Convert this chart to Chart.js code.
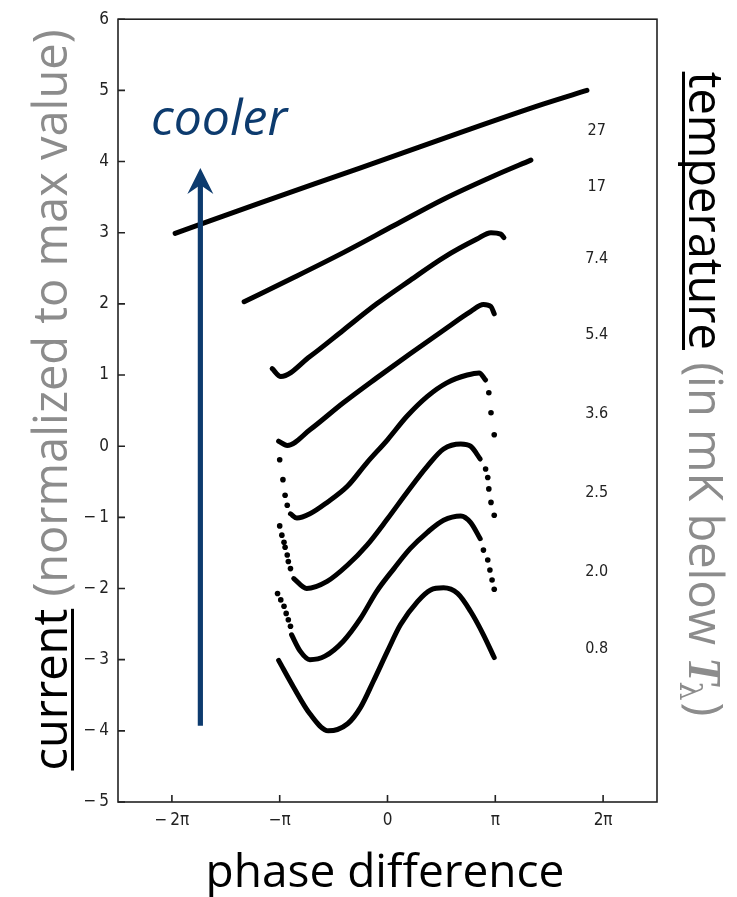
<!DOCTYPE html>
<html><head><meta charset="utf-8">
<style>html,body{margin:0;padding:0;background:#fff;}canvas{display:block}</style>
<script src="https://cdn.jsdelivr.net/npm/chart.js@4/dist/chart.umd.min.js"></script>
</head><body>
<canvas id="c" width="737" height="897"></canvas>
<script>
// ---- data (x in multiples of pi, y = normalized current, offset per curve) ----
const tempLabels = ["27", "17", "7.4", "5.4", "3.6", "2.5", "2.0", "0.8"];
const tempLabelY = [4.43, 3.65, 2.63, 1.56, 0.45, -0.66, -1.76, -2.85];
const tempLabelX = 1.94;

const xTickValues = [-2, -1, 0, 1, 2];
const xTickLabels = ["\u2212\u20092\u03c0", "\u2212\u03c0", "0", "\u03c0", "2\u03c0"];
const yTickValues = [-5, -4, -3, -2, -1, 0, 1, 2, 3, 4, 5, 6];

const t27X = [-1.97, -1.18, -0.25, 0.68, 1.45, 1.85];
const t27Y = [2.99, 3.42, 3.91, 4.41, 4.81, 5.00];

const t17X = [-1.33, -0.87, -0.41, 0.06, 0.52, 0.99, 1.33];
const t17Y = [2.03, 2.37, 2.72, 3.10, 3.47, 3.80, 4.02];

const t74X = [-1.07, -0.99, -0.72, -0.41, -0.10, 0.21, 0.52, 0.83, 0.96, 1.05, 1.08];
const t74Y = [1.09, 0.98, 1.26, 1.63, 2.00, 2.33, 2.65, 2.91, 3.00, 2.98, 2.93];

const t54X = [-1.01, -0.93, -0.72, -0.41, -0.10, 0.21, 0.52, 0.77, 0.89, 0.96, 0.99];
const t54Y = [0.07, 0.01, 0.23, 0.61, 0.96, 1.30, 1.63, 1.89, 1.99, 1.96, 1.86];

const t36X = [-0.90, -0.84, -0.72, -0.56, -0.37, -0.19, 0.00, 0.18, 0.37, 0.55, 0.74, 0.85, 0.91];
const t36Y = [-0.95, -1.01, -0.95, -0.79, -0.56, -0.23, 0.09, 0.42, 0.70, 0.89, 1.00, 1.03, 0.93];
const t36DotsX = [-1.00, -0.97, -0.95, -0.93, 0.94, 0.96, 0.99];
const t36DotsY = [-0.19, -0.47, -0.69, -0.83, 0.75, 0.47, 0.16];

const t25X = [-0.87, -0.75, -0.56, -0.37, -0.19, 0.00, 0.18, 0.37, 0.52, 0.68, 0.77, 0.86];
const t25Y = [-1.86, -2.00, -1.90, -1.67, -1.39, -1.02, -0.65, -0.28, -0.04, 0.03, 0.00, -0.18];
const t25DotsX = [-1.00, -0.98, -0.96, -0.95, -0.93, -0.92, -0.90, 0.91, 0.93, 0.94, 0.96, 0.99];
const t25DotsY = [-1.12, -1.25, -1.35, -1.42, -1.53, -1.62, -1.72, -0.32, -0.44, -0.60, -0.79, -0.97];

const t20X = [-0.89, -0.81, -0.72, -0.58, -0.41, -0.25, -0.10, 0.06, 0.21, 0.37, 0.52, 0.68, 0.77, 0.86];
const t20Y = [-2.65, -2.88, -3.00, -2.95, -2.74, -2.42, -2.04, -1.72, -1.44, -1.21, -1.04, -0.98, -1.07, -1.30];
const t20DotsX = [-1.02, -0.99, -0.96, -0.94, -0.92, -0.90, 0.89, 0.93, 0.95, 0.97, 0.99];
const t20DotsY = [-2.07, -2.16, -2.25, -2.35, -2.44, -2.53, -1.46, -1.60, -1.74, -1.88, -2.01];

const t08X = [-1.01, -0.87, -0.72, -0.55, -0.37, -0.25, -0.13, 0.00, 0.12, 0.28, 0.40, 0.52, 0.65, 0.77, 0.89, 0.99];
const t08Y = [-3.01, -3.39, -3.76, -4.00, -3.90, -3.67, -3.30, -2.88, -2.51, -2.18, -2.02, -1.99, -2.07, -2.32, -2.65, -2.97];

// "cooler" arrow annotation (data units)
const arrowX = -1.736, arrowFromY = -3.93, arrowToY = 3.91;

// ---- build datasets ----
const pts = (xs, ys) => xs.map((x, i) => ({x, y: ys[i]}));
const solid = [[t27X,t27Y],[t17X,t17Y],[t74X,t74Y],[t54X,t54Y],[t36X,t36Y],[t25X,t25Y],[t20X,t20Y],[t08X,t08Y]];
const dots = [[t36DotsX,t36DotsY],[t25DotsX,t25DotsY],[t20DotsX,t20DotsY]];
const datasets = [];
solid.forEach(([xs, ys], i) => datasets.push({
  label: tempLabels[i] + " mK", data: pts(xs, ys), showLine: true,
  borderColor: "#000", backgroundColor: "#000", borderWidth: 5,
  pointRadius: 0, cubicInterpolationMode: "monotone", borderCapStyle: "round", borderJoinStyle: "round"
}));
dots.forEach(([xs, ys]) => datasets.push({
  data: pts(xs, ys), showLine: false, pointRadius: 2.8,
  pointBackgroundColor: "#000", pointBorderWidth: 0
}));

const NARROW = "'DejaVu Sans Condensed','Liberation Sans Narrow',sans-serif";
const SANS = "'Open Sans','Noto Sans',sans-serif";
const TITLE = 46;

const deco = {
  id: "deco",
  beforeDraw(chart) {
    const c = chart.ctx; c.save(); c.fillStyle = "#fff";
    c.fillRect(0, 0, chart.width, chart.height); c.restore();
  },
  afterDatasetsDraw(chart) {
    const c = chart.ctx, a = chart.chartArea;
    const xs = chart.scales.x, ys = chart.scales.y;
    c.save();
    // frame
    c.strokeStyle = "#222"; c.lineWidth = 1.6;
    c.strokeRect(a.left, a.top, a.right - a.left, a.bottom - a.top);
    // inward ticks
    c.beginPath();
    xTickValues.forEach(v => { const p = xs.getPixelForValue(v); c.moveTo(p, a.bottom); c.lineTo(p, a.bottom - 7); });
    yTickValues.forEach(v => { const p = ys.getPixelForValue(v); c.moveTo(a.left, p); c.lineTo(a.left + 7, p); });
    c.stroke();
    // temperature labels
    c.fillStyle = "#222"; c.font = "16px " + NARROW;
    c.textAlign = "center"; c.textBaseline = "middle";
    tempLabels.forEach((t, i) => c.fillText(t, xs.getPixelForValue(tempLabelX), ys.getPixelForValue(tempLabelY[i])));
    // arrow
    const ax = xs.getPixelForValue(arrowX), y0 = ys.getPixelForValue(arrowFromY), y1 = ys.getPixelForValue(arrowToY);
    const blue = "#0d3b6e";
    c.strokeStyle = blue; c.fillStyle = blue; c.lineWidth = 5.2; c.lineCap = "butt";
    c.beginPath(); c.moveTo(ax, y0); c.lineTo(ax, y1 + 16); c.stroke();
    c.beginPath(); c.moveTo(ax, y1); c.lineTo(ax + 13, y1 + 26); c.lineTo(ax, y1 + 17); c.lineTo(ax - 13, y1 + 26); c.closePath(); c.fill();
    // cooler
    c.font = "italic 50px " + SANS; c.textAlign = "left"; c.textBaseline = "alphabetic";
    c.fillText("cooler", 151, 135);
    c.restore();
  },
  afterDraw(chart) {
    const c = chart.ctx;
    c.save();
    const gray = "#8c8c8c";
    c.textBaseline = "alphabetic"; c.textAlign = "left";
    // x title
    c.font = TITLE + "px " + SANS; c.fillStyle = "#000"; c.textAlign = "center";
    c.fillText("phase difference", 385, 887);
    c.textAlign = "left";
    // left title
    c.save(); c.translate(67, 400); c.rotate(-Math.PI / 2);
    c.font = (TITLE + 1) + "px " + SANS;
    const p1 = "current", p2 = " (normalized to max value)";
    const w1 = c.measureText(p1).width, w2 = c.measureText(p2).width;
    let s = -(w1 + w2) / 2;
    c.fillStyle = "#000"; c.fillText(p1, s, 0);
    c.fillRect(s, 4, w1, 3);
    c.fillStyle = gray; c.fillText(p2, s + w1, 0);
    c.restore();
    // right title
    c.save(); c.translate(689, 395); c.rotate(Math.PI / 2);
    const fMain = (TITLE + 1) + "px " + SANS;
    c.font = fMain;
    const q1 = "temperature", q2 = " (in mK below ", q4 = ")";
    const fT = "bold italic 46px 'Liberation Serif','DejaVu Serif',serif";
    const fL = "30px 'DejaVu Serif',serif";
    const r1 = c.measureText(q1).width, r2 = c.measureText(q2).width, r4 = c.measureText(q4).width;
    c.font = fT; const r3 = c.measureText("T").width;
    c.font = fL; const rl = c.measureText("\u03bb").width;
    const tot = r1 + r2 + r3 + rl + r4;
    s = -tot / 2;
    c.font = fMain;
    c.fillStyle = "#000"; c.fillText(q1, s, 0); c.fillRect(s, 4, r1, 3);
    c.fillStyle = gray; c.fillText(q2, s + r1, 0);
    c.font = fT; c.fillText("T", s + r1 + r2, 0);
    c.font = fL; c.fillText("\u03bb", s + r1 + r2 + r3 - 4, 9);
    c.font = fMain; c.fillText(q4, s + r1 + r2 + r3 + rl - 2, 0);
    c.restore();
    c.restore();
  }
};

new Chart(document.getElementById("c"), {
  type: "scatter",
  data: { datasets },
  options: {
    responsive: false, animation: false, devicePixelRatio: 1,
    layout: { padding: { left: 60, right: 80, top: 12, bottom: 55 } },
    plugins: { legend: { display: false }, tooltip: { enabled: false } },
    elements: { point: { hoverRadius: 0 } },
    scales: {
      x: {
        type: "linear", min: -2.5, max: 2.5,
        grid: { display: false, drawTicks: false }, border: { display: false },
        afterBuildTicks: s => { s.ticks = xTickValues.map(v => ({ value: v })); },
        afterFit: s => { s.height = 40; },
        ticks: { padding: 8, color: "#222", font: { size: 17, family: NARROW },
          callback: v => { const i = xTickValues.indexOf(v); return i >= 0 ? xTickLabels[i] : ""; } }
      },
      y: {
        type: "linear", min: -5, max: 6,
        grid: { display: false, drawTicks: false }, border: { display: false },
        afterBuildTicks: s => { s.ticks = yTickValues.map(v => ({ value: v })); },
        afterFit: s => { s.width = 58; },
        ticks: { padding: 9, color: "#222", font: { size: 17, family: NARROW },
          callback: v => (v < 0 ? "\u2212\u2009" + Math.abs(v) : String(v)) }
      }
    }
  },
  plugins: [deco]
});
</script>
</body></html>
